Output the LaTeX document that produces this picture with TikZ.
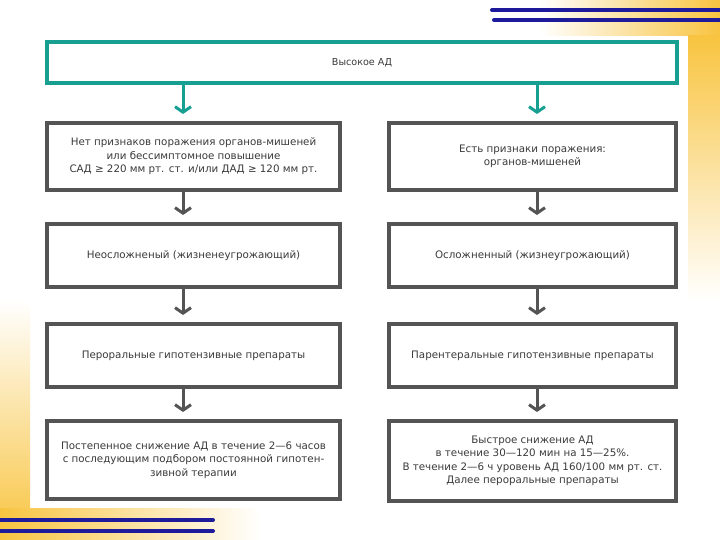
\documentclass[tikz,border=0pt]{standalone}
\usepackage{fontspec}
\setmainfont{DejaVu Sans}
\usetikzlibrary{arrows.meta}
\definecolor{teal1}{HTML}{17A092}
\definecolor{boxgray}{HTML}{545454}
\definecolor{txt}{HTML}{3A3A3A}
\definecolor{navy1}{HTML}{1E1A9C}
\definecolor{gold1}{HTML}{F8C440}
\begin{document}
\begin{tikzpicture}[x=1pt,y=-1pt,
  box/.style={draw=boxgray, line width=4pt, fill=white, inner sep=0pt, align=center,
    text=txt, font=\fontsize{10.3}{13.5}\selectfont},
  topbox/.style={box, draw=teal1, font=\fontsize{9.6}{12}\selectfont},
  colL/.style={minimum width=293pt},
  colR/.style={minimum width=287pt},
  arr/.style={draw=boxgray, line width=3pt, -{Straight Barb[length=5.5pt,width=16pt]}, shorten >=7pt},
  tarr/.style={arr, draw=teal1},
  navyline/.style={draw=navy1, line width=4pt, line cap=round}]
\useasboundingbox (0,0) rectangle (720,540);
% background decorations
\shade[left color=white, right color=gold1] (540,0) rectangle (720,36);
\shade[top color=gold1, bottom color=white] (688,36) rectangle (720,300);
\shade[top color=white, bottom color=gold1] (0,300) rectangle (30,540);
\shade[left color=gold1, right color=white] (0,508) rectangle (260,540);
\draw[navyline] (492,10) -- (720,10);
\draw[navyline] (494,20) -- (720,20);
\draw[navyline] (0,520) -- (213,520);
\draw[navyline] (0,531) -- (213,531);
% nodes
\node[topbox, minimum width=630pt, minimum height=41pt] (top) at (362,62.5) {Высокое АД};
\node[box, colL, minimum height=67pt] (L1) at (193.5,156.5) {Нет признаков поражения органов-мишеней\\или бессимптомное повышение\\САД ≥ 220 мм рт. ст. и/или ДАД ≥ 120 мм рт.};
\node[box, colR, minimum height=67pt] (R1) at (532.5,156.5) {Есть признаки поражения:\\органов-мишеней};
\node[box, colL, minimum height=63pt] (L2) at (193.5,255.5) {Неосложненый (жизненеугрожающий)};
\node[box, colR, minimum height=63pt] (R2) at (532.5,255.5) {Осложненный (жизнеугрожающий)};
\node[box, colL, minimum height=63pt] (L3) at (193.5,355.5) {Пероральные гипотензивные препараты};
\node[box, colR, minimum height=63pt] (R3) at (532.5,355.5) {Парентеральные гипотензивные препараты};
\node[box, colL, minimum height=78pt] (L4) at (193.5,460) {Постепенное снижение АД в течение 2—6 часов\\с последующим подбором постоянной гипотен-\\зивной терапии};
\node[box, colR, minimum height=80pt] (R4) at (532.5,461) {Быстрое снижение АД\\в течение 30—120 мин на 15—25\%.\\В течение 2—6 ч уровень АД 160/100 мм рт. ст.\\Далее пероральные препараты};
% arrows
\coordinate (xl) at (183,0);
\coordinate (xr) at (537,0);
\draw[tarr] (top.south -| xl) -- (L1.north -| xl);
\draw[tarr] (top.south -| xr) -- (R1.north -| xr);
\draw[arr] (L1.south -| xl) -- (L2.north -| xl);
\draw[arr] (L2.south -| xl) -- (L3.north -| xl);
\draw[arr] (L3.south -| xl) -- (L4.north -| xl);
\draw[arr] (R1.south -| xr) -- (R2.north -| xr);
\draw[arr] (R2.south -| xr) -- (R3.north -| xr);
\draw[arr] (R3.south -| xr) -- (R4.north -| xr);
\end{tikzpicture}
\end{document}
